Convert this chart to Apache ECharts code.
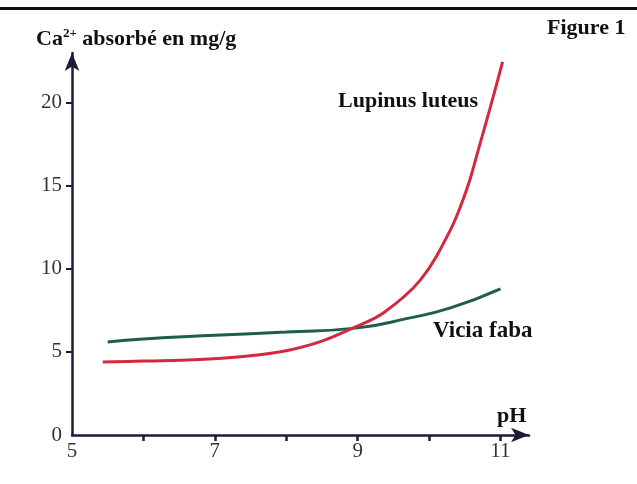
<!DOCTYPE html>
<html>
<head>
<meta charset="utf-8">
<script src="https://cdn.jsdelivr.net/npm/echarts@6/dist/echarts.min.js"></script>
<style>
html,body{margin:0;padding:0;background:#fff;}
#chart{width:637px;height:484px;}
</style>
</head>
<body>
<div id="chart"></div>
<script>
const lupinusPH = [5.43, 6.0, 6.5, 7.1, 7.6, 8.05, 8.5, 8.94, 9.36, 9.88, 10.3, 10.54, 10.69, 10.85, 11.03];
const lupinusCa = [4.40, 4.45, 4.50, 4.62, 4.82, 5.12, 5.65, 6.45, 7.35, 9.34, 12.35, 14.94, 17.17, 19.6, 22.47];
const viciaPH = [5.5, 6.0, 7.0, 8.0, 9.0, 9.7, 10.3, 11.0];
const viciaCa = [5.6, 5.78, 6.0, 6.2, 6.45, 7.02, 7.65, 8.8];
const xLabelValues = [5, 7, 9, 11];
const xTickValues = [6, 7, 8, 9, 10, 11];
const yLabelValues = [0, 5, 10, 15, 20];
const yTickValues = [5, 10, 15, 20];

const pair = (xs, ys) => xs.map((x, i) => [x, ys[i]]);
const axisColor = '#1b1b3a';
const serif = '"Liberation Serif", "DejaVu Serif", serif';

const chart = echarts.init(document.getElementById('chart'));
chart.setOption({
  animation: false,
  backgroundColor: '#fff',
  grid: { left: 72, right: 108, top: 53, bottom: 49, containLabel: false },
  xAxis: {
    type: 'value', min: 5, max: 11.4,
    axisLine: { show: true, lineStyle: { color: axisColor, width: 2.5 }, symbol: ['none', 'arrow'], symbolSize: [11, 18] },
    axisTick: { show: true, customValues: xTickValues, length: 6, lineStyle: { color: axisColor, width: 2.5 } },
    axisLabel: { customValues: xLabelValues, color: '#333', fontFamily: serif, fontSize: 21, margin: 6 },
    splitLine: { show: false }
  },
  yAxis: {
    type: 'value', min: 0, max: 23,
    axisLine: { show: true, lineStyle: { color: axisColor, width: 2.5 }, symbol: ['none', 'arrow'], symbolSize: [11, 18] },
    axisTick: { show: true, customValues: yTickValues, length: 6, lineStyle: { color: axisColor, width: 2 } },
    axisLabel: { customValues: yLabelValues, color: '#333', fontFamily: serif, fontSize: 21, margin: 10 },
    splitLine: { show: false }
  },
  series: [
    {
      name: 'Vicia faba', type: 'line', data: pair(viciaPH, viciaCa),
      smooth: 0.5, showSymbol: false,
      lineStyle: { color: '#1f5e48', width: 3 }
    },
    {
      name: 'Lupinus luteus', type: 'line', data: pair(lupinusPH, lupinusCa),
      smooth: 0.35, showSymbol: false,
      lineStyle: { color: '#d3283d', width: 3 }
    }
  ],
  graphic: [
    { type: 'rect', left: 0, top: 7, shape: { width: 637, height: 3 }, style: { fill: '#111' } },
    { type: 'text', left: 36, top: 27, style: {
        text: '{b|Ca}{s|2+}{b| absorbé en mg/g}',
        rich: {
          b: { fontFamily: serif, fontWeight: 'bold', fontSize: 22, fill: '#111', verticalAlign: 'bottom' },
          s: { fontFamily: serif, fontWeight: 'bold', fontSize: 13, fill: '#111', verticalAlign: 'top', padding: [0,0,10,0] }
        } } },
    { type: 'text', left: 547, top: 17, style: { text: 'Figure 1', font: 'bold 22px ' + serif, fill: '#111' } },
    { type: 'text', left: 338, top: 90, style: { text: 'Lupinus luteus', font: 'bold 22px ' + serif, fill: '#111' } },
    { type: 'text', left: 433, top: 320, style: { text: 'Vicia faba', font: 'bold 23px ' + serif, fill: '#111' } },
    { type: 'text', left: 497, top: 405, style: { text: 'pH', font: 'bold 22px ' + serif, fill: '#111' } }
  ]
});
</script>
</body>
</html>
